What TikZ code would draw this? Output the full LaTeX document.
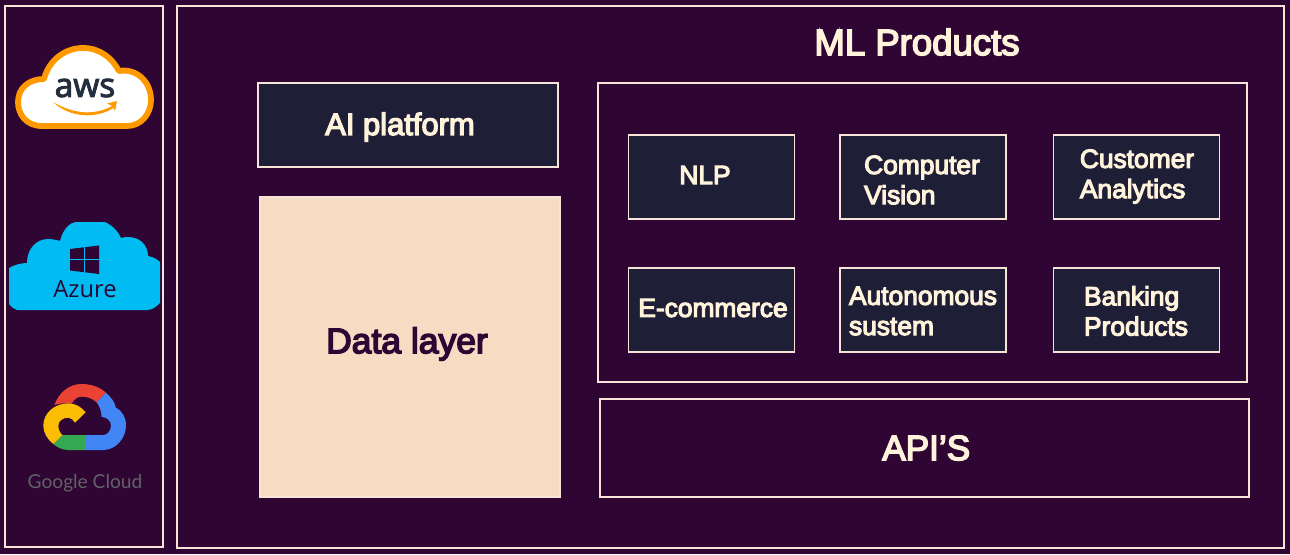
\documentclass[tikz,border=0pt]{standalone}
\usepackage{fontspec}
\usepackage{xcolor}
\setmainfont{Liberation Sans}[UprightFeatures={FakeBold=4.2}]
\newfontfamily\logofont{Open Sans}
\newfontfamily\awsfont{Open Sans}[UprightFeatures={FakeBold=3}]
\newfontfamily\googlefont{Lato}
\definecolor{stackPlum}{HTML}{2F0533}
\definecolor{stackNavy}{HTML}{1E1E36}
\definecolor{stackCream}{HTML}{FFF3DC}
\definecolor{stackPeach}{HTML}{F5DCC3}
\definecolor{stackEdge}{HTML}{F6E4D6}
\definecolor{awsOrange}{HTML}{FF9900}
\definecolor{awsInk}{HTML}{232F3E}
\definecolor{azureBlue}{HTML}{00BCF2}
\definecolor{gRed}{HTML}{EA4335}
\definecolor{gBlue}{HTML}{4285F4}
\definecolor{gYellow}{HTML}{FBBC04}
\definecolor{gGreen}{HTML}{34A853}
\definecolor{gGrey}{HTML}{5F6368}
\tikzset{
  frame/.style={draw=stackEdge, line width=1.1pt},
  navybox/.style={frame, fill=stackNavy, minimum width=166*0.02cm, minimum height=84*0.02cm},
  navytext/.style={text=stackCream, inner sep=0pt, font=\fontsize{15}{17.2}\selectfont, align=left},
}
\begin{document}
\begin{tikzpicture}[x=0.02cm, y=-0.02cm]
\useasboundingbox (0,0) rectangle (1290,554);
\fill[stackPlum] (0,0) rectangle (1290,554);

\node (cloudcol) [frame, minimum width=158*0.02cm, minimum height=541*0.02cm] at (84,276.5) {};
\node (mainbox) [frame, minimum width=1107*0.02cm, minimum height=542*0.02cm] at (730.5,277) {};
\node (title) [text=stackCream, font=\fontsize{20.8}{24}\selectfont] at (917,42) {ML Products};

\node (platform) [frame, fill=stackNavy, minimum width=300*0.02cm, minimum height=84*0.02cm] at (408,125) {};
\node (platformtext) [text=stackCream, font=\fontsize{17.6}{20}\selectfont] at (400,127) {AI platform};
\node (datalayer) [frame, fill=stackPeach, minimum width=300*0.02cm, minimum height=300*0.02cm] at (410,347) {};
\node (datatext) [text=stackPlum, font=\fontsize{20.2}{24}\selectfont] at (407,344) {Data layer};
\node (products) [frame, minimum width=649*0.02cm, minimum height=299*0.02cm] at (922.5,232.5) {};
\node (apis) [frame, text=stackCream, font=\fontsize{20}{24}\selectfont, minimum width=649*0.02cm, minimum height=98*0.02cm] at (924.5,448) {\hspace{2pt}API’S};

\node (nlp) [navybox] at (711.5,177) {};
\node (vision) [navybox] at (923,177) {};
\node (customer) [navybox] at (1136.5,177) {};
\node (ecommerce) [navybox] at (711.5,310) {};
\node (autonomous) [navybox] at (923,310) {};
\node (banking) [navybox] at (1136.5,310) {};
\node (nlptext) [navytext] at (705,175) {NLP};
\node (visiontext) [navytext] at (922,180) {Computer\\Vision};
\node (customertext) [navytext] at (1137,176.5) {Customer\\Analytics};
\node (ecommercetext) [navytext] at (713,308) {E-commerce};
\node (autonomoustext) [navytext] at (923,311) {Autonomous\\sustem};
\node (bankingtext) [navytext] at (1136,311) {Banking\\Products};

% aws logo
\filldraw[fill=white, draw=awsOrange, line width=3.3pt, line join=round]
  (42,126) .. controls (26,126) and (18,114) .. (18,102)
  .. controls (18,88) and (29,79) .. (44,79)
  .. controls (49,60) and (65,48) .. (83,48)
  .. controls (100,48) and (112,58) .. (119,71)
  .. controls (137,68) and (151,82) .. (151,100)
  .. controls (151,114) and (141,126) .. (127,126) -- cycle;
\node (awstext) [text=awsInk, inner sep=0pt, font=\awsfont\fontsize{19}{20}\selectfont] at (85,88) {aws};
\fill[awsOrange] (53,102) .. controls (75,115) and (96,115) .. (112,106) -- (107,103.5) -- (117,101) -- (115,111) -- (113.5,108) .. controls (96,119) and (70,118) .. (53,102) -- cycle;

% azure logo
\fill[azureBlue] (9,268) .. controls (14,265) and (21,263) .. (27,263)
  .. controls (27,248) and (37,239) .. (48,239) .. controls (52,239) and (57,240) .. (60,241)
  .. controls (63,229) and (70,222) .. (77,222) -- (105,222)
  .. controls (113,226) and (118,231) .. (121,238) .. controls (131,235) and (147,238) .. (148,256)
  .. controls (153,257) and (157,259) .. (160,262) -- (160,303)
  .. controls (156,307) and (152,310) .. (147,310) -- (17,310) .. controls (14,309) and (11,307) .. (9,304) -- cycle;
\fill[stackPlum] (70,249) -- (99,245.5) -- (99,274) -- (70,270.5) -- cycle;
\draw[azureBlue, line width=0.45pt] (84.5,247) -- (84.5,272.5) (70,259.5) -- (99,259.5);
\node (azuretext) [text=stackPlum, inner sep=0pt, font=\logofont\fontsize{13.5}{15}\selectfont] at (85,289) {Azure};

% google cloud logo
\begin{scope}[shift={(0,370)}, xscale=1/3, yscale=1/3]
\fill[gRed] (163,105) .. controls (178,66) and (208,42) .. (245,42) .. controls (275,42) and (300,52) .. (318,68) -- (290,97) .. controls (278,85) and (260,80) .. (245,80) .. controls (232,80) and (222,88) .. (215,101) .. controls (195,98) and (178,100) .. (163,105) -- cycle;
\fill[gBlue] (318,68) .. controls (335,84) and (345,97) .. (347,112) .. controls (366,122) and (378,142) .. (378,165) .. controls (378,208) and (345,240) .. (310,240) -- (255,240) -- (255,195) -- (310,195) .. controls (322,195) and (333,182) .. (333,167) .. controls (333,152) and (320,141) .. (305,141) .. controls (304,124) and (299,108) .. (290,97) -- cycle;
\fill[gGreen] (160,222) -- (187,195) -- (255,195) -- (255,240) -- (205,240) .. controls (188,240) and (172,233) .. (160,222) -- cycle;
\fill[gYellow] (257,127) .. controls (243,110) and (226,100) .. (205,100) .. controls (165,100) and (130,128) .. (130,167) .. controls (130,188) and (142,208) .. (160,222) -- (187,195) .. controls (180,189) and (175,178) .. (175,167) .. controls (175,152) and (190,143) .. (205,143) .. controls (213,143) and (220,150) .. (225,158) -- cycle;
\end{scope}
\node (gcloudtext) [text=gGrey, inner sep=0pt, font=\googlefont\fontsize{10.9}{13}\selectfont] at (85,483) {Google Cloud};
\end{tikzpicture}
\end{document}
